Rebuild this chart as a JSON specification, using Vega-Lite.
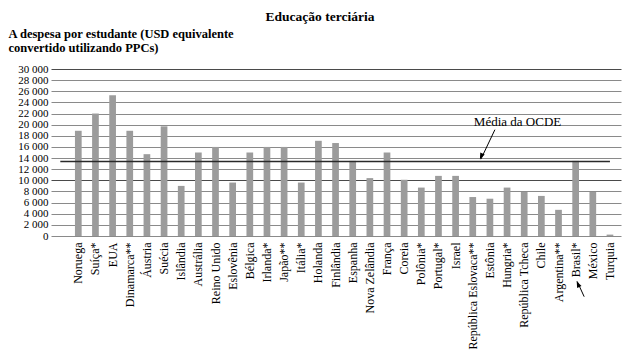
{
  "$schema": "https://vega.github.io/schema/vega-lite/v6.json",
  "width": 570,
  "height": 167,
  "autosize": {"type": "none"},
  "padding": {"left": 51, "top": 69, "right": 19, "bottom": 115},
  "background": "white",
  "config": {
    "view": {"stroke": null},
    "font": "Liberation Serif",
    "locale": {"number": {"decimal": ",", "thousands": " ", "grouping": [3], "currency": ["", ""]}},
    "title": {"font": "Liberation Serif", "fontSize": 13.5, "fontWeight": "bold", "color": "#000", "anchor": "middle", "dx": -16}
  },
  "title": "Educação terciária",
  "datasets": {
    "paises": [
      {"pais": "Noruega", "valor": 18900},
      {"pais": "Suíça*", "valor": 22000},
      {"pais": "EUA", "valor": 25300},
      {"pais": "Dinamarca**", "valor": 18900},
      {"pais": "Áustria", "valor": 14700},
      {"pais": "Suécia", "valor": 19700},
      {"pais": "Islândia", "valor": 9000},
      {"pais": "Austrália", "valor": 15000},
      {"pais": "Reino Unido", "valor": 16000},
      {"pais": "Eslovênia", "valor": 9600},
      {"pais": "Bélgica", "valor": 15000},
      {"pais": "Irlanda*", "valor": 16000},
      {"pais": "Japão**", "valor": 16000},
      {"pais": "Itália*", "valor": 9600},
      {"pais": "Holanda", "valor": 17100},
      {"pais": "Finlândia", "valor": 16700},
      {"pais": "Espanha", "valor": 13500},
      {"pais": "Nova Zelândia", "valor": 10400},
      {"pais": "França", "valor": 15000},
      {"pais": "Coreia", "valor": 10100},
      {"pais": "Polônia*", "valor": 8700},
      {"pais": "Portugal*", "valor": 10800},
      {"pais": "Israel", "valor": 10800},
      {"pais": "República Eslovaca**", "valor": 7000},
      {"pais": "Estônia", "valor": 6700},
      {"pais": "Hungria*", "valor": 8700},
      {"pais": "República Tcheca", "valor": 7900},
      {"pais": "Chile", "valor": 7200},
      {"pais": "Argentina**", "valor": 4700},
      {"pais": "Brasil*", "valor": 13500},
      {"pais": "México", "valor": 7900},
      {"pais": "Turquia", "valor": 250}
    ],
    "media": [{"pais": "Noruega", "ate": "Turquia", "valor": 13400}],
    "rotulo": [{"pais": "Hungria*", "valor": 20500, "texto": "Média da OCDE"}],
    "seta1": [{"pais": "Estônia", "valor": 19100, "ponta": 13800}],
    "ponta1": [{"pais": "Estônia", "valor": 13800}],
    "seta2": [{"pais": "Brasil*", "valor": -10900, "ponta": -8150}],
    "ponta2": [{"pais": "Brasil*", "valor": -8150}]
  },
  "encoding": {
    "x": {
      "field": "pais", "type": "nominal", "sort": null,
      "scale": {
        "domain": ["Noruega", "Suíça*", "EUA", "Dinamarca**", "Áustria", "Suécia", "Islândia", "Austrália", "Reino Unido", "Eslovênia", "Bélgica", "Irlanda*", "Japão**", "Itália*", "Holanda", "Finlândia", "Espanha", "Nova Zelândia", "França", "Coreia", "Polônia*", "Portugal*", "Israel", "República Eslovaca**", "Estônia", "Hungria*", "República Tcheca", "Chile", "Argentina**", "Brasil*", "México", "Turquia"],
        "paddingInner": 0.609, "paddingOuter": 0.9225, "align": 0.757
      },
      "axis": {
        "title": null, "labelAngle": -90, "labelFont": "Liberation Serif", "labelFontSize": 12,
        "labelColor": "#000", "labelPadding": 6, "ticks": false, "domain": false, "labelOverlap": false, "grid": false
      }
    },
    "y": {
      "field": "valor", "type": "quantitative",
      "scale": {"domain": [0, 30000], "nice": false, "zero": true},
      "axis": {
        "values": [0, 2000, 4000, 6000, 8000, 10000, 12000, 14000, 16000, 18000, 20000, 22000, 24000, 26000, 28000, 30000],
        "format": ",d", "labelOverlap": false, "labelFont": "Liberation Serif", "labelFontSize": 11,
        "labelColor": "#000", "labelPadding": 3, "ticks": false, "domain": false,
        "grid": true,
        "gridColor": {"condition": {"test": "datum.value === 30000 || datum.value === 10000", "value": "#4a4a4a"}, "value": "#8a8a8a"},
        "gridWidth": 1,
        "title": ["A despesa por estudante (USD equivalente", "convertido utilizando PPCs)"],
        "titleAngle": 0, "titleAlign": "left", "titleBaseline": "alphabetic",
        "titleX": -43, "titleY": -32, "titleFont": "Liberation Serif", "titleFontSize": 12.5,
        "titleFontWeight": "bold", "titleColor": "#000", "titleLineHeight": 14
      }
    }
  },
  "layer": [
    {
      "data": {"name": "paises"},
      "mark": {"type": "bar", "color": "#9c9c9c"}
    },
    {
      "data": {"name": "media"},
      "mark": {"type": "rule", "color": "#2a2a2a", "strokeWidth": 1.5, "xOffset": -18},
      "encoding": {
        "x2": {"field": "ate"}
      }
    },
    {
      "data": {"name": "rotulo"},
      "mark": {"type": "text", "font": "Liberation Serif", "fontSize": 13, "color": "#000", "dx": 10.5, "baseline": "middle"},
      "encoding": {
        "text": {"field": "texto"}
      }
    },
    {
      "data": {"name": "seta1"},
      "mark": {"type": "rule", "color": "#000", "strokeWidth": 1, "xOffset": 5, "x2Offset": -9},
      "encoding": {
        "x2": {"field": "pais"},
        "y2": {"field": "ponta"}
      }
    },
    {
      "data": {"name": "ponta1"},
      "mark": {"type": "point", "filled": true, "color": "#000", "opacity": 1, "size": 160, "shape": "M0,0L-0.38,1L0.38,1Z", "angle": 204, "xOffset": -10}
    },
    {
      "data": {"name": "seta2"},
      "mark": {"type": "rule", "color": "#000", "strokeWidth": 1, "xOffset": 8.5, "x2Offset": 1.5},
      "encoding": {
        "x2": {"field": "pais"},
        "y2": {"field": "ponta"}
      }
    },
    {
      "data": {"name": "ponta2"},
      "mark": {"type": "point", "filled": true, "color": "#000", "opacity": 1, "size": 160, "shape": "M0,0L-0.38,1L0.38,1Z", "angle": 335, "xOffset": 1}
    }
  ]
}
